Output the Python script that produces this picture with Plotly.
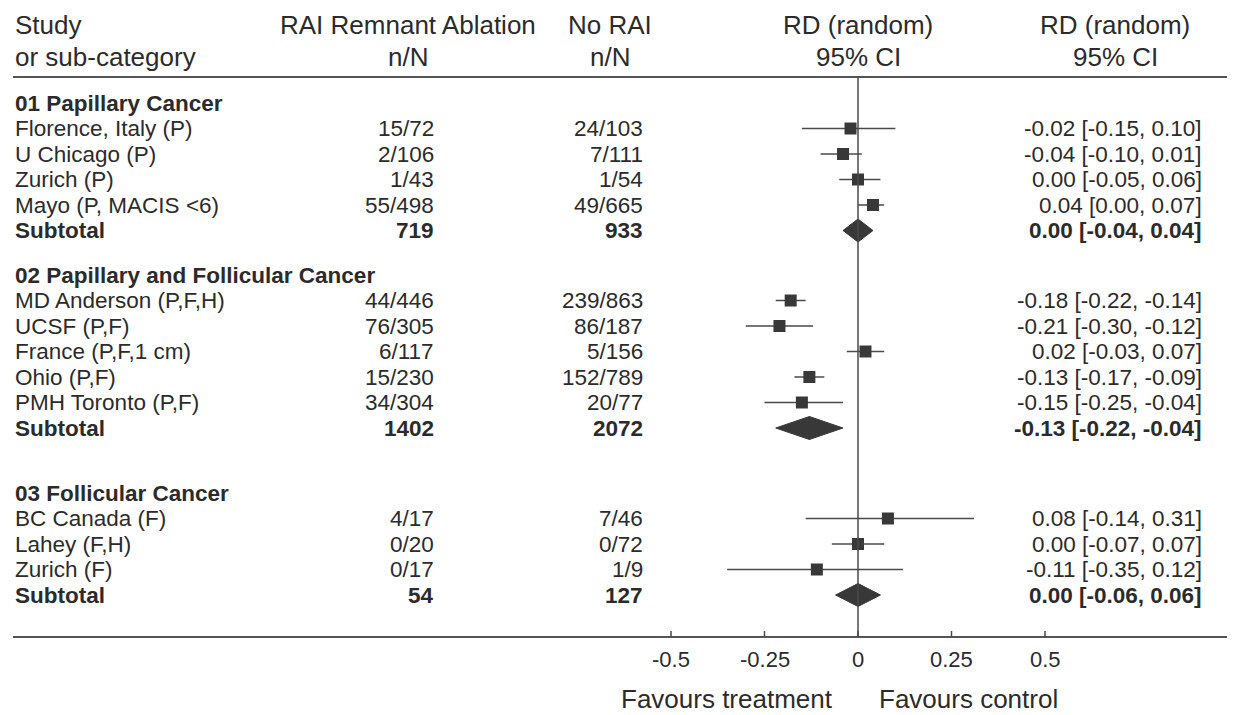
import plotly.graph_objects as go

# ---------------- data ----------------
groups = ["01 Papillary Cancer", "02 Papillary and Follicular Cancer", "03 Follicular Cancer"]
study = ["Florence, Italy (P)", "U Chicago (P)", "Zurich (P)", "Mayo (P, MACIS <6)",
         "MD Anderson (P,F,H)", "UCSF (P,F)", "France (P,F,1 cm)", "Ohio (P,F)", "PMH Toronto (P,F)",
         "BC Canada (F)", "Lahey (F,H)", "Zurich (F)"]
group_of = [0, 0, 0, 0, 1, 1, 1, 1, 1, 2, 2, 2]
rai_events = [15, 2, 1, 55, 44, 76, 6, 15, 34, 4, 0, 0]
rai_total = [72, 106, 43, 498, 446, 305, 117, 230, 304, 17, 20, 17]
norai_events = [24, 7, 1, 49, 239, 86, 5, 152, 20, 7, 0, 1]
norai_total = [103, 111, 54, 665, 863, 187, 156, 789, 77, 46, 72, 9]
rd = [-0.02, -0.04, 0.00, 0.04, -0.18, -0.21, 0.02, -0.13, -0.15, 0.08, 0.00, -0.11]
rd_lo = [-0.15, -0.10, -0.05, 0.00, -0.22, -0.30, -0.03, -0.17, -0.25, -0.14, -0.07, -0.35]
rd_hi = [0.10, 0.01, 0.06, 0.07, -0.14, -0.12, 0.07, -0.09, -0.04, 0.31, 0.07, 0.12]
sub_rai_total = [719, 1402, 54]
sub_norai_total = [933, 2072, 127]
sub_rd = [0.00, -0.13, 0.00]
sub_lo = [-0.04, -0.22, -0.06]
sub_hi = [0.04, -0.04, 0.06]
tick_vals = [-0.5, -0.25, 0, 0.25, 0.5]
tick_text = ["-0.5", "-0.25", "0", "0.25", "0.5"]

# ---------------- layout ----------------
PAGE_W, PAGE_H = 1235, 715
OFF = 8                      # default body margin of the html page
W, H = PAGE_W - OFF, PAGE_H - OFF
X0_PX, UNIT_PX = 858.0 - OFF, 374.0
FONT = "Liberation Sans, Arial, sans-serif"
TXT = "#2b2b2b"
MARK = "#383838"
LINE = "#4a4a4a"
BODY = 22.5
HEAD = 26

group_top = [103, 275, 493]
STEP = 25.5

col_study = 13
col_rai = 436
col_norai = 645
col_ci = 1204

fig = go.Figure()
ann = []
shapes = []


def PX(x):          # page pixel -> paper fraction
    return (x - OFF) / W


def PY(y):          # page pixel -> y data (pixel axis)
    return y - OFF


def text(x, y, s, anchor="left", size=BODY, bold=False):
    ann.append(dict(x=PX(x), y=PY(y), xref="paper", yref="y", text=(f"<b>{s}</b>" if bold else s),
                    showarrow=False, xanchor=anchor, yanchor="middle",
                    font=dict(family=FONT, size=size, color=TXT)))


# headers
text(col_study, 25, "Study", size=HEAD)
text(col_study, 57, "or sub-category", size=HEAD)
text(408, 25, "RAI Remnant Ablation", "center", HEAD)
text(408, 57, "n/N", "center", HEAD)
text(610, 25, "No RAI", "center", HEAD)
text(610, 57, "n/N", "center", HEAD)
text(858, 25, "RD (random)", "center", HEAD)
text(858, 57, "95% CI", "center", HEAD)
text(1115, 25, "RD (random)", "center", HEAD)
text(1115, 57, "95% CI", "center", HEAD)

# rows
study_y = []
sub_y = []
for g, gname in enumerate(groups):
    y0 = group_top[g]
    text(col_study, y0, gname, bold=True)
    idx = [i for i, gg in enumerate(group_of) if gg == g]
    k = 1
    for i in idx:
        y = y0 + STEP * k
        study_y.append(PY(y))
        text(col_study, y, study[i])
        text(col_rai, y, f"{rai_events[i]}/{rai_total[i]}", "right")
        text(col_norai, y, f"{norai_events[i]}/{norai_total[i]}", "right")
        text(col_ci, y, f"{rd[i]:.2f} [{rd_lo[i]:.2f}, {rd_hi[i]:.2f}]", "right")
        k += 1
    ys = y0 + STEP * k
    sub_y.append(PY(ys))
    text(col_study, ys, "Subtotal", bold=True)
    text(col_rai, ys, f"{sub_rai_total[g]}", "right", bold=True)
    text(col_norai, ys, f"{sub_norai_total[g]}", "right", bold=True)
    text(col_ci, ys, f"{sub_rd[g]:.2f} [{sub_lo[g]:.2f}, {sub_hi[g]:.2f}]", "right", bold=True)

TOP_RULE, BOT_RULE = 77, 637

# rules
for yy in (TOP_RULE, BOT_RULE):
    shapes.append(dict(type="line", xref="paper", yref="y", x0=PX(13), x1=1, y0=PY(yy), y1=PY(yy),
                       line=dict(color="#555555", width=2)))
# zero line
shapes.append(dict(type="line", xref="x", yref="y", x0=0, x1=0, y0=PY(TOP_RULE), y1=PY(BOT_RULE),
                   line=dict(color=LINE, width=1.5)))
# ticks
for tv, tt in zip(tick_vals, tick_text):
    shapes.append(dict(type="line", xref="x", yref="y", x0=tv, x1=tv, y0=PY(BOT_RULE - 6), y1=PY(BOT_RULE),
                       line=dict(color=LINE, width=1.5)))
    ann.append(dict(x=tv, y=PY(659), xref="x", yref="y", text=tt, showarrow=False, xanchor="center",
                    yanchor="middle", font=dict(family=FONT, size=22, color=TXT)))
text(835, 699, "Favours treatment", "right", HEAD)
text(877, 699, "Favours control", "left", HEAD)

# CI whiskers
for i in range(len(study)):
    fig.add_trace(go.Scatter(x=[rd_lo[i], rd_hi[i]], y=[study_y[i], study_y[i]], mode="lines",
                             line=dict(color=LINE, width=1.5), hoverinfo="skip", showlegend=False))
# point estimates
fig.add_trace(go.Scatter(x=rd, y=study_y, mode="markers",
                         marker=dict(symbol="square", size=12, color=MARK, line=dict(width=0)),
                         showlegend=False))
# subtotal diamonds
HALF = 11.5
for g in range(len(groups)):
    yc = sub_y[g]
    fig.add_trace(go.Scatter(x=[sub_lo[g], sub_rd[g], sub_hi[g], sub_rd[g], sub_lo[g]],
                             y=[yc, yc - HALF, yc, yc + HALF, yc], mode="lines", fill="toself",
                             fillcolor=MARK, line=dict(color=MARK, width=1), showlegend=False))

fig.update_layout(
    width=W, height=H, margin=dict(l=0, r=0, t=0, b=0),
    paper_bgcolor="white", plot_bgcolor="white",
    xaxis=dict(range=[-X0_PX / UNIT_PX, (W - X0_PX) / UNIT_PX], domain=[0, 1], visible=False, fixedrange=True),
    yaxis=dict(range=[H, 0], domain=[0, 1], visible=False, fixedrange=True),
    annotations=ann, shapes=shapes, showlegend=False,
)
fig.write_html("out.html")
